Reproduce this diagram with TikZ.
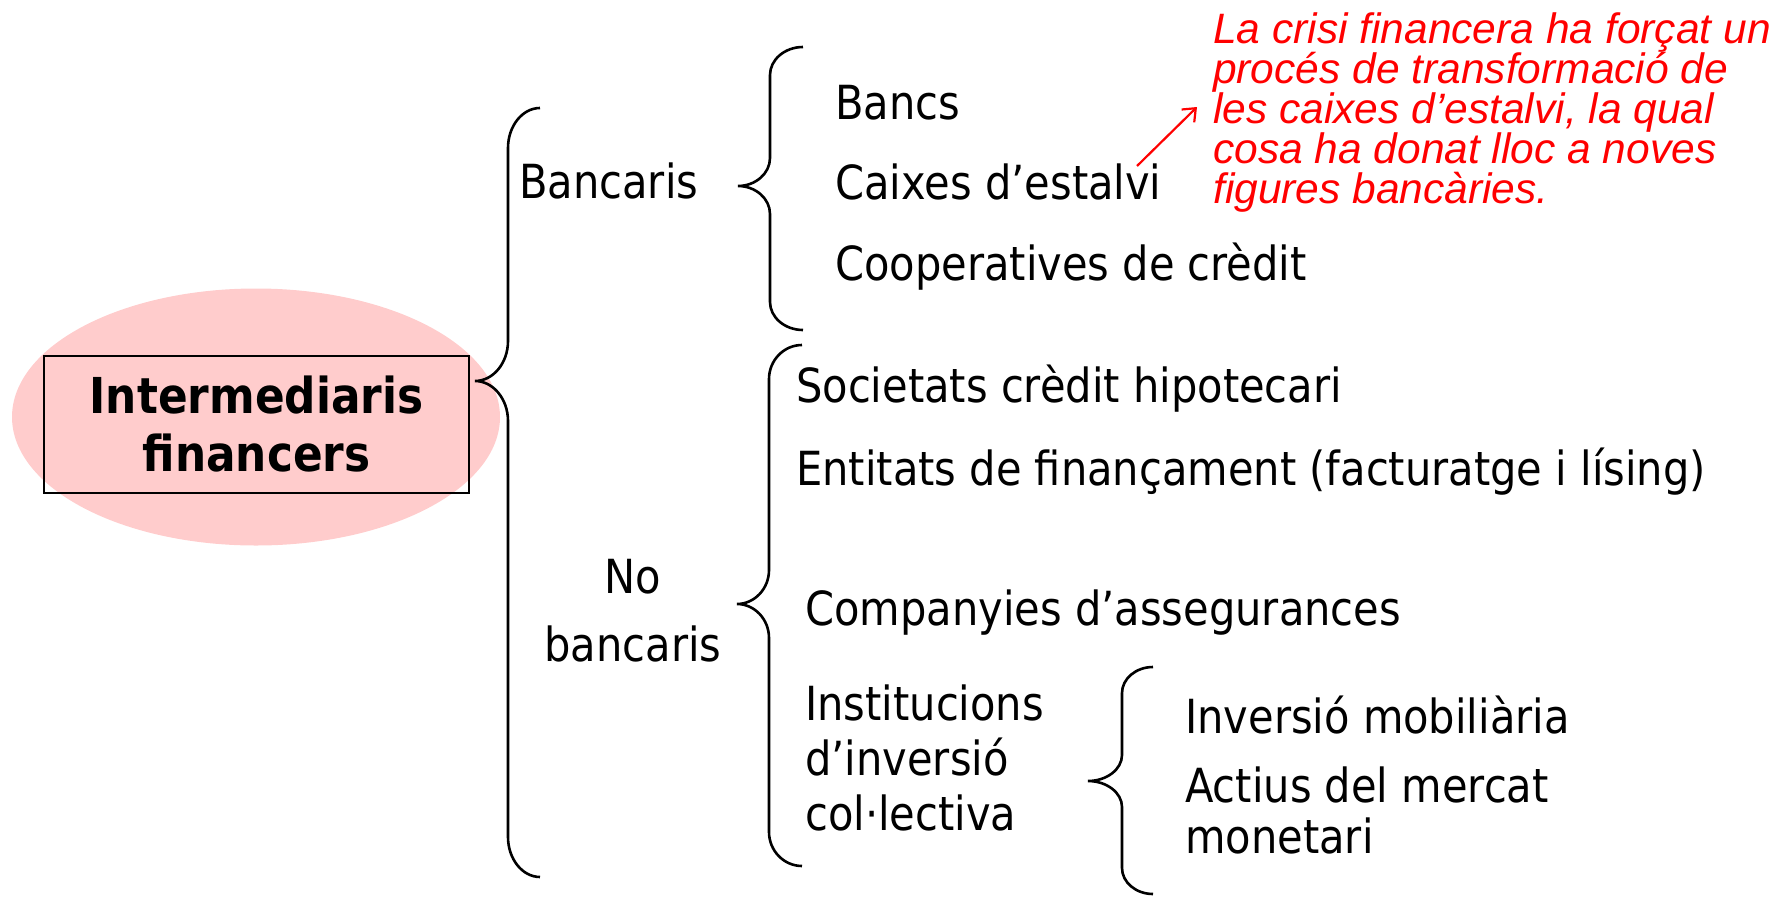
\documentclass[tikz,border=0pt]{standalone}
\usepackage{fontspec}
\setmainfont{DejaVu Sans}[FakeStretch=0.885]
\newfontfamily\notefont{Liberation Sans}
\usetikzlibrary{shapes.geometric,arrows.meta}
\definecolor{halopink}{RGB}{255,204,204}
\definecolor{notered}{RGB}{255,0,0}
% #1 x of ends, #2 x of spine, #3 x of tip, #4 y top, #5 y tip, #6 y bottom, #7 hook height
\newcommand{\curlyb}[7]{%
  \draw[bracestyle] (#1,#4) .. controls ({#1-0.55*(#1-#2)},#4) and (#2,{#4+0.45*#7}) .. (#2,{#4+#7})
   -- (#2,{#5-#7}) .. controls (#2,{#5-0.45*#7}) and ({#3+0.55*(#2-#3)},#5) .. (#3,#5)
   .. controls ({#3+0.55*(#2-#3)},#5) and (#2,{#5+0.45*#7}) .. (#2,{#5+#7})
   -- (#2,{#6-#7}) .. controls (#2,{#6-0.45*#7}) and ({#1-0.55*(#1-#2)},#6) .. (#1,#6);}
\begin{document}
\begin{tikzpicture}[x=1pt,y=-1pt,
  lbl/.style={inner sep=0pt, anchor=base west, font=\fontsize{47}{56}\selectfont},
  lblc/.style={inner sep=0pt, anchor=base, font=\fontsize{47}{56}\selectfont},
  note/.style={inner sep=0pt, anchor=base west, text=notered, font=\notefont\itshape\fontsize{42.5}{40}\selectfont},
  bracestyle/.style={draw=black, line width=2.6pt},
  notearrow/.style={draw=notered, line width=2.2pt, -{Straight Barb[length=11pt,width=18pt,line width=2.2pt]}}]
\useasboundingbox (0,0) rectangle (1781,897);

% root
\node[ellipse, fill=halopink, minimum width=488pt, minimum height=257pt, inner sep=0pt] (halo) at (256,417) {};
\node[draw=black, line width=2.2pt, minimum width=425pt, minimum height=137pt, inner sep=0pt,
      align=center, font=\bfseries\fontsize{49.5}{58}\selectfont] (root) at (256.5,424.5) {Intermediaris\\financers};

% braces
\curlyb{540}{508}{475}{108}{381}{877}{40}
\curlyb{803}{770}{738}{47}{186}{330}{28}
\curlyb{802}{769}{737}{345}{604}{866}{34}
\curlyb{1153}{1122}{1088}{667}{781}{894}{26}

% level 1
\node[lbl] (banc) at (519,198) {Bancaris};
\node[lblc] (nob1) at (633,593) {No};
\node[lblc] (nob2) at (633,661) {bancaris};

% level 2 - bancaris
\node[lbl] (bancs) at (835,119) {Bancs};
\node[lbl] (caix) at (835,199) {Caixes d’estalvi};
\node[lbl] (coop) at (835,280) {Cooperatives de crèdit};

% level 2 - no bancaris
\node[lbl] (soc) at (796,402) {Societats crèdit hipotecari};
\node[lbl] (ent) at (796,485) {Entitats de finançament (facturatge i lísing)};
\node[lbl] (comp) at (805,625) {Companyies d’assegurances};
\node[lbl] (inst1) at (805,720) {Institucions};
\node[lbl] (inst2) at (805,775) {d’inversió};
\node[lbl] (inst3) at (805,830) {col·lectiva};

% level 3
\node[lbl] (inv) at (1185,733) {Inversió mobiliària};
\node[lbl] (act1) at (1185,802) {Actius del mercat};
\node[lbl] (act2) at (1185,853) {monetari};

% note
\node[note] (n1) at (1213,43) {La crisi financera ha forçat un};
\node[note] (n2) at (1213,83) {procés de transformació de};
\node[note] (n3) at (1213,123) {les caixes d’estalvi, la qual};
\node[note] (n4) at (1213,163) {cosa ha donat lloc a noves};
\node[note] (n5) at (1213,203) {figures bancàries.};

\coordinate (arrs) at (1137,166);
\coordinate (arre) at (1197,107);
\draw[notearrow] (arrs) -- (arre);
\end{tikzpicture}
\end{document}
